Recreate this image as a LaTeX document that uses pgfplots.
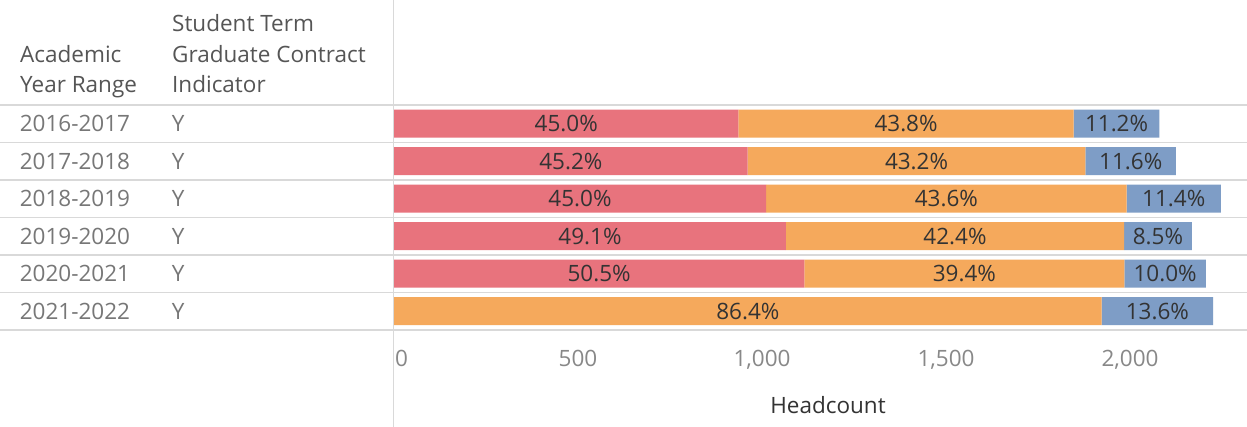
\documentclass[border=0pt]{standalone}
\usepackage{fontspec}
\setmainfont{Open Sans}
\usepackage{pgfplots}
\usepackage{pgfplotstable}
\pgfplotsset{compat=1.18}
\definecolor{tred}{HTML}{E8737D}
\definecolor{torange}{HTML}{F5A95C}
\definecolor{tblue}{HTML}{7E9DC6}
\definecolor{sep}{HTML}{D9D9D9}
\definecolor{hdr}{HTML}{555555}
\definecolor{rowtxt}{HTML}{777777}
\definecolor{ticktxt}{HTML}{888888}
\definecolor{lbl}{HTML}{333333}

\pgfplotstableread{
row red orange blue pr po pb
0 936 911 233 45.0 43.8 11.2
1 961 918 246 45.2 43.2 11.6
2 1011 980 256 45.0 43.6 11.4
3 1065 919 184 49.1 42.4 8.5
4 1115 870 221 50.5 39.4 10.0
5 0 1923 303 0 86.4 13.6
}\data

\newcommand{\rl}[1]{\makebox[152pt][l]{#1}\makebox[222pt][l]{Y}}
\newcommand{\fs}{\fontsize{22.5}{27}\selectfont}

\begin{document}
\begin{tikzpicture}[x=1pt,y=1pt]
\useasboundingbox (0,0) rectangle (1247,427);
\fill[white] (0,0) rectangle (1247,427);
\foreach \yy in {105,142.5,180,217.5,255,292.5,330}
  \draw[sep, line width=1.2pt] (0,{427-\yy}) -- (1247,{427-\yy});
\draw[sep, line width=1pt] (393,0) -- (393,427);

\begin{axis}[
  at={(394pt,97pt)}, anchor=south west,
  scale only axis, width=853pt, height=225pt,
  xmin=0, xmax=2318, ymin=-0.5, ymax=5.5, y dir=reverse,
  xbar stacked, bar width=28pt,
  axis line style={draw=none}, tick style={draw=none},
  major tick length=0pt,
  xtick={0,500,1000,1500,2000},
  xticklabels={\makebox[0pt][l]{\hspace{1pt}0},500,{1,000},{1,500},{2,000}},
  ytick={0,1,2,3,4,5},
  yticklabels={\rl{2016-2017},\rl{2017-2018},\rl{2018-2019},\rl{2019-2020},\rl{2020-2021},\rl{2021-2022}},
  yticklabel style={anchor=east, inner sep=0pt, text=rowtxt, font=\fs},
  xticklabel style={anchor=base, inner sep=0pt, yshift=-37pt, text=ticktxt, font=\fs},
  clip=false,
]
\addplot[fill=tred, draw=none] table[x=red, y=row] {\data};
\addplot[fill=torange, draw=none] table[x=orange, y=row] {\data};
\addplot[fill=tblue, draw=none] table[x=blue, y=row] {\data};
\end{axis}

\begin{axis}[
  at={(394pt,97pt)}, anchor=south west,
  scale only axis, width=853pt, height=225pt,
  xmin=0, xmax=2318, ymin=-0.5, ymax=5.5, y dir=reverse,
  hide axis, clip=false,
  nodes near coords={\pgfmathprintnumber[fixed,fixed zerofill,precision=1,assume math mode=true]{\pgfplotspointmeta}\%},
  every node near coord/.append style={anchor=center, text=lbl, font=\fs},
  point meta=explicit,
]
\addplot[only marks, mark=none, skip coords between index={5}{6}] table[x expr=\thisrow{red}/2, y=row, meta=pr] {\data};
\addplot[only marks, mark=none] table[x expr=\thisrow{red}+\thisrow{orange}/2, y=row, meta=po] {\data};
\addplot[only marks, mark=none] table[x expr=\thisrow{red}+\thisrow{orange}+\thisrow{blue}/2, y=row, meta=pb] {\data};
\end{axis}

\begin{scope}[font=\fs, text=hdr, inner sep=0pt]
\node[anchor=base west] at (20,364) {Academic};
\node[anchor=base west] at (20,334) {Year Range};
\node[anchor=base west] at (172,395) {Student Term};
\node[anchor=base west] at (172,364) {Graduate Contract};
\node[anchor=base west] at (172,334) {Indicator};
\node[anchor=base, text=lbl] at (828,13) {Headcount};
\end{scope}
\end{tikzpicture}
\end{document}
